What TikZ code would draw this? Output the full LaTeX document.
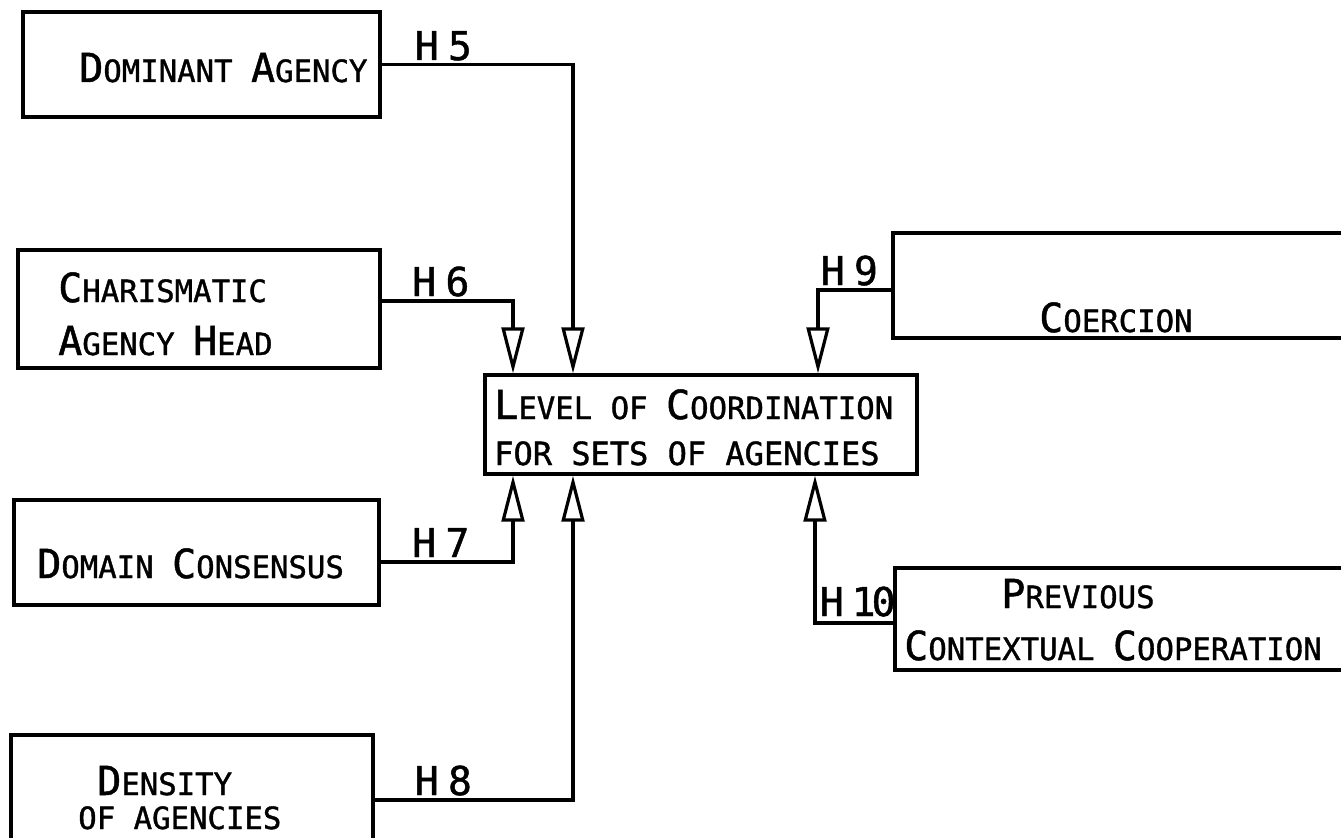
\documentclass[tikz,border=0pt]{standalone}
\usepackage{fontspec}
\newfontfamily\lettering[FakeBold=1.2]{DejaVu Sans Mono}
\usetikzlibrary{arrows.meta,fit}
% large initial capitals followed by small capitals
\newcommand\Cap[1]{{\fontsize{30}{30}\selectfont #1}}
\newcommand\smallletters{\fontsize{23}{23}\selectfont}

\begin{document}
\begin{tikzpicture}[x=0.75pt,y=-0.75pt,
  box/.style={draw, line width=2.4pt, inner sep=0pt},
  txt/.style={font=\lettering\smallletters, inner sep=0pt, anchor=base west},
  lab/.style={font=\lettering\fontsize{29.8}{30}\selectfont, inner sep=0pt, anchor=base west},
  conn/.style={line width=2.4pt, line join=miter,
    -{Triangle[open, length=34.5pt, width=17pt]}}]

\useasboundingbox (0,0) rectangle (1341,838);
\fill[white] (0,0) rectangle (1341,838);
\clip (0,0) rectangle (1341,838);

% boxes
\node[box, fit={(23,12) (380,117)}]   (dom) {};
\node[box, fit={(18,250) (380,368)}]  (cha) {};
\node[box, fit={(485,375) (917,474)}] (lvl) {};
\node[box, fit={(14,500) (379,605)}]  (dcs) {};
\node[box, fit={(11,735) (373,860)}]  (den) {};
\node[box, fit={(893,233) (1370,338)}] (coe) {};
\node[box, fit={(895,568) (1370,670)}] (prv) {};

% box texts
\node[txt] (domtxt) at (79,82) {\Cap{D}OMINANT \Cap{A}GENCY};
\node[txt] (chatxt1) at (58,302) {\Cap{C}HARISMATIC};
\node[txt] (chatxt2) at (58,355) {\Cap{A}GENCY \Cap{H}EAD};
\node[txt] (lvltxt1) at (494,419) {\Cap{L}EVEL OF \Cap{C}OORDINATION};
\node[txt, font=\lettering\fontsize{24}{24}\selectfont] (lvltxt2) at (494,465) {FOR SETS OF AGENCIES};
\node[txt] (dcstxt) at (37,578) {\Cap{D}OMAIN \Cap{C}ONSENSUS};
\node[txt] (dentxt1) at (97,795) {\Cap{D}ENSITY};
\node[txt] (dentxt2) at (78,829) {OF AGENCIES};
\node[txt] (coetxt) at (1039,332) {\Cap{C}OERCION};
\node[txt] (prvtxt1) at (1001,608) {\Cap{P}REVIOUS};
\node[txt] (prvtxt2) at (904,660) {\Cap{C}ONTEXTUAL \Cap{C}OOPERATION};

% bends of the connectors
\coordinate (c5) at (573,65);
\coordinate (c6) at (513,301);
\coordinate (c7) at (513,562);
\coordinate (c8) at (573,800);
\coordinate (c9) at (818,290);
\coordinate (c10) at (815,623);

% connectors
\draw[conn] (dom.east) -| (lvl.north -| c5);
\draw[conn] (cha.east |- c6) -| (lvl.north -| c6);
\draw[conn] (dcs.east |- c7) -| (lvl.south -| c7);
\draw[conn] (den.east |- c8) -| (lvl.south -| c8);
\draw[conn] (coe.west |- c9) -| (lvl.north -| c9);
\draw[conn] (prv.west |- c10) -| (lvl.south -| c10);

% hypothesis labels
\node[lab] (h5) at (414.5,60) {H\hspace{7pt}5};
\node[lab] (h6) at (412,296) {H\hspace{7pt}6};
\node[lab] (h7) at (412,557) {H\hspace{7pt}7};
\node[lab] (h8) at (414.5,795) {H\hspace{7pt}8};
\node[lab] (h9) at (820.5,285) {H\hspace{7pt}9};
\node[lab] (h10) at (819.5,616) {H\hspace{6pt}1\kern-3pt 0};
\end{tikzpicture}
\end{document}
